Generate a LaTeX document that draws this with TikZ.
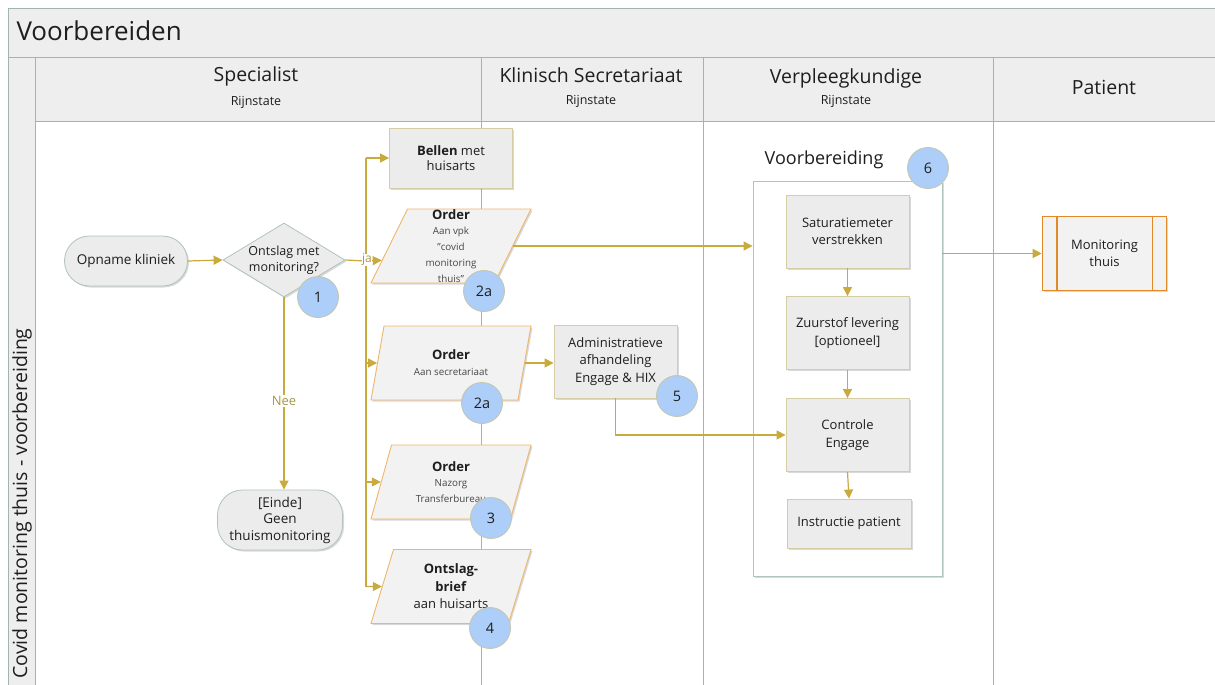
\documentclass[tikz,border=0pt]{standalone}
\usepackage{fontspec}
\setmainfont{Open Sans}
\usetikzlibrary{arrows.meta,shapes.geometric,calc,shadows}
\definecolor{connc}{RGB}{201,170,60}
\definecolor{labc}{RGB}{170,150,70}
\definecolor{lanec}{RGB}{160,182,172}
\definecolor{headf}{RGB}{238,238,238}
\definecolor{boxf}{RGB}{236,236,236}
\definecolor{boxb}{RGB}{214,204,166}
\definecolor{parab}{RGB}{240,182,104}
\definecolor{paraf}{RGB}{242,242,242}
\definecolor{termb}{RGB}{176,196,186}
\definecolor{circf}{RGB}{172,206,248}
\definecolor{circb}{RGB}{196,198,172}
\definecolor{monb}{RGB}{224,138,40}
\definecolor{txt}{RGB}{30,30,30}
\definecolor{smalltxt}{RGB}{70,70,70}
\newcommand\fsz[2]{\fontsize{#1}{#2}\selectfont}
\newcommand\smtxt{\fsz{9.8}{12}\color{smalltxt}}
\begin{document}
\begin{tikzpicture}[x=1pt,y=-1pt,
  shad/.style={drop shadow={shadow xshift=1.5pt,shadow yshift=-1.5pt,opacity=0.15,fill=black}},
  lane/.style={draw=lanec,line width=0.9pt},
  conn/.style={draw=connc,line width=1.2pt},
  arr/.style={conn,-{Triangle[length=9pt,width=9pt]}},
  lab/.style={text=labc,fill=white,inner sep=1pt,font=\fsz{13}{15}},
  hdr/.style={text=txt,font=\fsz{19.5}{22}},
  sub/.style={text=txt,font=\fsz{12.5}{14}},
  box/.style={shad,draw=boxb,line width=0.8pt,fill=boxf,minimum width=123pt,minimum height=73pt,align=center,text=txt,font=\fsz{13}{17.5},inner sep=2pt},
  term/.style={shad,draw=termb,line width=0.8pt,fill=boxf,rounded corners=25pt,align=center,text=txt,font=\fsz{13.5}{16.5},inner sep=2pt},
  para/.style={shad,trapezium,trapezium left angle=63.4,trapezium right angle=116.6,trapezium stretches body=true,
    draw=parab,line width=0.9pt,fill=paraf,minimum width=160pt,minimum height=74pt,inner sep=0pt,align=center,text=txt,font=\fsz{13}{16}},
  num/.style={circle,draw=circb,line width=0.8pt,fill=circf,minimum size=41pt,inner sep=0pt,text=txt,font=\fsz{14.5}{16}}
]
\useasboundingbox (0,0) rectangle (1215,685);
% frame and title
\fill[white] (8,8) rectangle (1220,690);
\draw[lane,fill=headf] (8,8) rectangle (1220,57);
\node[anchor=west,text=txt,font=\fsz{26}{30}] (title) at (13,31) {Voorbereiden};
\draw[lane,fill=headf] (8,57) rectangle (35,690);
\draw[lane,fill=headf] (35,57) rectangle (1220,121);
\draw[lane] (481,57) -- (481,690);
\draw[lane] (703,57) -- (703,690);
\draw[lane] (993,57) -- (993,690);
\node[rotate=90,anchor=west,text=txt,font=\fsz{19.5}{22}] (pool) at (22,682) {Covid monitoring thuis - voorbereiding};
% lane headers
\node[hdr] (hspec) at (256,76) {Specialist};
\node[sub] (hspecs) at (256,102) {Rijnstate};
\node[hdr] (hkli) at (591,75) {Klinisch Secretariaat};
\node[sub] (hklis) at (591,101) {Rijnstate};
\node[hdr] (hvpk) at (846,78) {Verpleegkundige};
\node[sub] (hvpks) at (846,101) {Rijnstate};
\node[hdr] (hpat) at (1104,87) {Patient};
% container
\node[shad,draw=termb,line width=0.9pt,fill=white,minimum width=189pt,minimum height=395pt,inner sep=0pt] (cont) at (847.5,378.5) {};
\node[text=txt,font=\fsz{18}{20}] (contl) at (824,160) {Voorbereiding};
% nodes
\node[term,minimum width=123pt,minimum height=50pt] (opn) at (126,261) {Opname kliniek};
\node[shad,diamond,aspect=1.65,draw=termb,line width=0.8pt,fill=boxf,minimum width=122pt,minimum height=74pt,inner sep=0pt,align=center,text=txt,font=\fsz{12.5}{16}] (dia) at (284,260) {Ontslag met\\monitoring?};
\node[term,minimum width=125pt,minimum height=60pt] (ein) at (280,520) {[Einde]\\Geen\\thuismonitoring};
\node[box,minimum height=60pt,font=\fsz{13}{15.5}] (bel) at (451,158) {\textbf{Bellen} met\\huisarts};
\node[para] (o1) at (451,246) {\textbf{Order}\\[-1pt]\smtxt Aan vpk\\\smtxt \symbol{34}covid\\\smtxt monitoring\\\smtxt thuis\symbol{34}};
\node[para] (o2) at (451,363) {\textbf{Order}\\[0pt]\smtxt Aan secretariaat};
\node[para] (o3) at (451,482) {\textbf{Order}\\[-1pt]\smtxt Nazorg\\\smtxt Transferbureau};
\node[para,font=\fsz{13}{17.5}] (o4) at (451,586.5) {\textbf{Ontslag-}\\\textbf{brief}\\aan huisarts};
\node[box] (adm) at (615.5,361.5) {Administratieve\\afhandeling\\Engage \& HIX};
\node[box] (sat) at (847.5,231.5) {Saturatiemeter\\verstrekken};
\node[box] (zuu) at (847.5,333) {Zuurstof levering\\{[optioneel]}};
\node[box] (ctl) at (847.5,435) {Controle\\Engage};
\node[box,minimum width=124pt,minimum height=49pt] (ins) at (849,523.5) {Instructie patient};
\node[shad,draw=monb,line width=1.6pt,fill=paraf,minimum width=124pt,minimum height=74pt,align=center,text=txt,font=\fsz{13}{17.5}] (mon) at (1104.5,253.5) {Monitoring\\thuis};
\draw[monb,line width=1.6pt] ([xshift=15pt]mon.north west) -- ([xshift=15pt]mon.south west);
\draw[monb,line width=1.6pt] ([xshift=-15pt]mon.north east) -- ([xshift=-15pt]mon.south east);
% connectors
\coordinate (ja) at (366,261);
\coordinate (ttop) at (366,158);
\coordinate (tbot) at (366,586.5);
\coordinate (o1in) at ($(o1.bottom left corner)!0.31!(o1.top left corner)$);
\draw[arr] (opn.east) -- (dia.west);
\draw[conn] (ttop) -- (tbot);
\draw[conn] (dia.east) -- (ja);
\draw[arr] (ja) -- (o1in);
\node[text=labc,fill=white,inner sep=0.6pt,font=\fsz{12}{14}] (jalab) at (367,260) {ja};
\draw[arr] (ttop) -- (bel.west);
\draw[arr] (o2.west -| ttop) -- (o2.west);
\draw[arr] (o3.west -| ttop) -- (o3.west);
\draw[arr] (tbot) -- (o4.west);
\draw[arr] (dia.south) -- node[lab,pos=0.54] {Nee} (dia.south |- ein.north);
\draw[arr] (o1.east) -- (o1.east -| cont.west);
\draw[arr] (o2.east) -- (o2.east -| adm.west);
\draw[arr] (adm.south) |- (ctl.west);
\draw[arr] (sat.south) -- (zuu.north);
\draw[arr] (zuu.south) -- (ctl.north);
\draw[arr] (ctl.south) -- (ins.north);
\draw[arr] (mon.west -| cont.east) -- (mon.west);
% numbers
\node[num] (n1) at (318,297) {1};
\node[num] (n2a) at (484,291) {2a};
\node[num] (n2b) at (482,403) {2a};
\node[num] (n3) at (491,518) {3};
\node[num] (n4) at (490,628) {4};
\node[num] (n5) at (677,396) {5};
\node[num] (n6) at (928,168) {6};
\end{tikzpicture}
\end{document}
